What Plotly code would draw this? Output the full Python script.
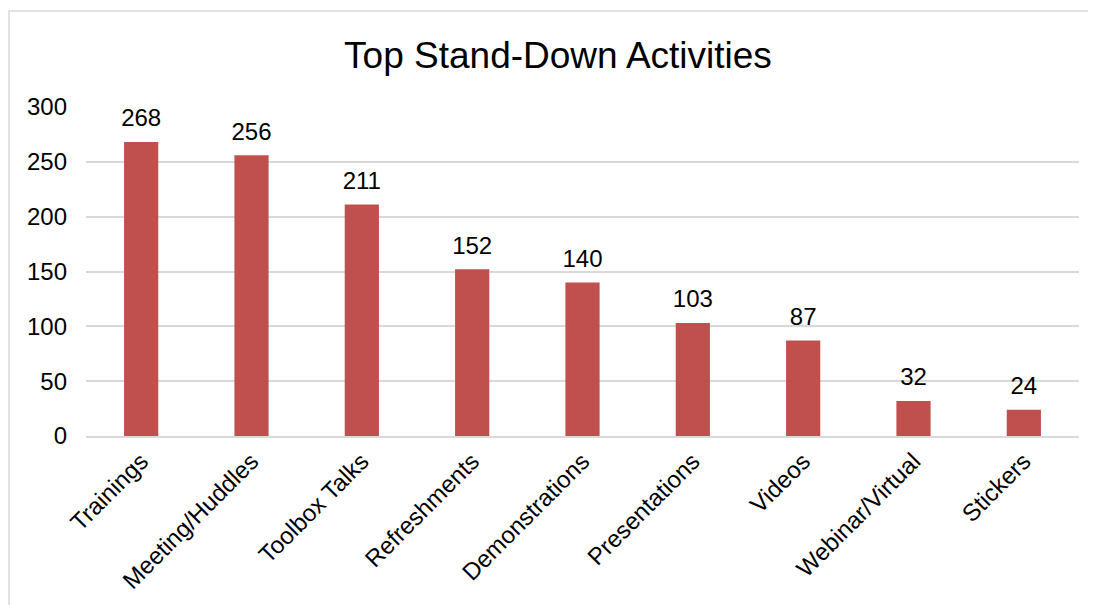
import plotly.graph_objects as go

# Chart data
activities = [
    "Trainings",
    "Meeting/Huddles",
    "Toolbox Talks",
    "Refreshments",
    "Demonstrations",
    "Presentations",
    "Videos",
    "Webinar/Virtual",
    "Stickers",
]
counts = [268, 256, 211, 152, 140, 103, 87, 32, 24]
y_ticks = [0, 50, 100, 150, 200, 250, 300]

# page has an 8px body margin, so the figure is slightly smaller
W, H = 1088, 597
margin = dict(l=78, r=17, t=99, b=169)
plot_w = W - margin["l"] - margin["r"]
plot_h = H - margin["t"] - margin["b"]

fig = go.Figure()
fig.add_trace(
    go.Bar(
        x=activities,
        y=counts,
        marker=dict(color="#C0504D", line=dict(width=0)),
        hoverinfo="x+y",
    )
)

# value labels sit a bit above the bar tops
fig.add_trace(
    go.Scatter(
        x=activities,
        y=counts,
        mode="markers+text",
        marker=dict(size=14, opacity=0),
        text=[str(c) for c in counts],
        textposition="top center",
        textfont=dict(size=24, color="#000000"),
        cliponaxis=False,
        hoverinfo="skip",
    )
)

# outer chart border (cropped at right and bottom in the reference)
fig.add_shape(
    type="rect",
    xref="paper",
    yref="paper",
    x0=(1 - margin["l"]) / plot_w,
    x1=1.2,
    y0=-1.0,
    y1=(H - margin["b"] - 3) / plot_h,
    line=dict(color="#D9D9D9", width=1.5),
    layer="below",
)

fig.update_layout(
    width=W,
    height=H,
    margin=margin,
    title=dict(
        text="Top Stand-Down Activities",
        x=550 / W,
        xref="container",
        xanchor="center",
        y=1 - 47 / H,
        yanchor="middle",
        font=dict(size=37, color="#000000"),
    ),
    font=dict(family="Liberation Sans, Arial, sans-serif", color="#000000"),
    plot_bgcolor="white",
    paper_bgcolor="white",
    bargap=0.69,
    showlegend=False,
    xaxis=dict(
        range=[-0.5, len(activities) - 0.5],
        tickangle=-45,
        tickfont=dict(size=24),
        showgrid=False,
        showline=True,
        linecolor="#D9D9D9",
        linewidth=1.5,
        ticks="",
    ),
    yaxis=dict(
        range=[0, 300],
        tickvals=y_ticks,
        tickfont=dict(size=24),
        showgrid=True,
        gridcolor="#D9D9D9",
        gridwidth=1.5,
        zeroline=False,
        showline=False,
        ticks="",
        ticklabelstandoff=18,
    ),
)

fig.write_html("out.html")
